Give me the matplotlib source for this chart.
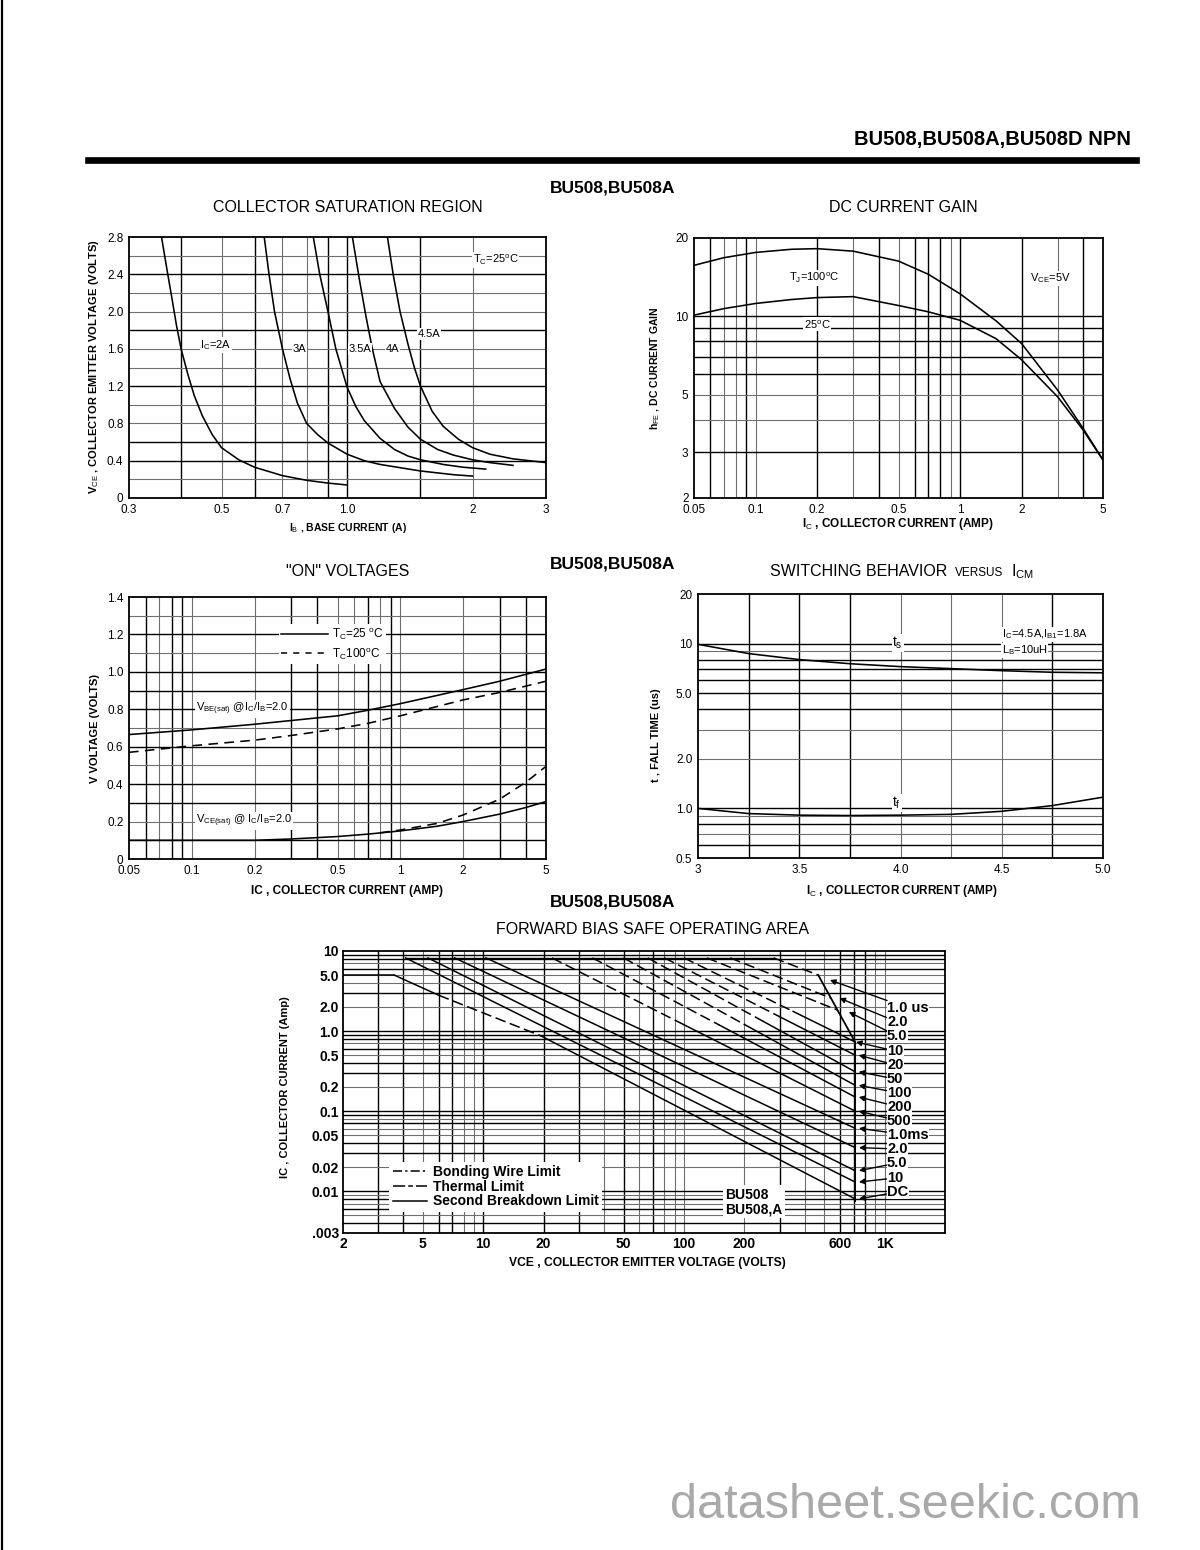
import matplotlib
matplotlib.use('Agg')
import matplotlib.pyplot as plt
from matplotlib.lines import Line2D

plt.rcParams['font.family'] = ['Liberation Sans', 'DejaVu Sans']
plt.rcParams['mathtext.fontset'] = 'custom'
plt.rcParams['mathtext.rm'] = 'Liberation Sans'
plt.rcParams['mathtext.it'] = 'Liberation Sans'
plt.rcParams['mathtext.bf'] = 'Liberation Sans:bold'

# ================= DATA =================
# --- Collector saturation region (IB in A, VCE in V) ---
sat_labels = ['I$_C$=2A', '3A', '3.5A', '4A', '4.5A']
sat_ib_2a = [0.359, 0.37, 0.38, 0.39, 0.40, 0.415, 0.43, 0.45, 0.475, 0.50, 0.55, 0.60, 0.70, 0.80, 0.90, 1.0]
sat_v_2a = [2.8, 2.45, 2.15, 1.85, 1.6, 1.33, 1.1, 0.88, 0.68, 0.54, 0.41, 0.33, 0.24, 0.19, 0.16, 0.14]
sat_ib_3a = [0.633, 0.65, 0.67, 0.70, 0.73, 0.76, 0.80, 0.85, 0.90, 1.0, 1.1, 1.2, 1.5, 1.8, 2.0]
sat_v_3a = [2.8, 2.4, 2.0, 1.6, 1.28, 1.02, 0.80, 0.68, 0.59, 0.47, 0.40, 0.36, 0.29, 0.25, 0.235]
sat_ib_35a = [0.83, 0.86, 0.90, 0.94, 1.0, 1.05, 1.1, 1.2, 1.3, 1.4, 1.5, 1.7, 1.9, 2.15]
sat_v_35a = [2.8, 2.4, 2.0, 1.6, 1.19, 0.98, 0.83, 0.64, 0.52, 0.45, 0.41, 0.36, 0.33, 0.31]
sat_ib_4a = [1.03, 1.07, 1.11, 1.15, 1.2, 1.3, 1.4, 1.5, 1.65, 1.8, 2.0, 2.2, 2.5]
sat_v_4a = [2.8, 2.35, 1.95, 1.6, 1.25, 0.96, 0.76, 0.63, 0.52, 0.46, 0.41, 0.38, 0.35]
sat_ib_45a = [1.25, 1.29, 1.34, 1.40, 1.45, 1.5, 1.6, 1.7, 1.85, 2.0, 2.2, 2.5, 3.0]
sat_v_45a = [2.8, 2.4, 2.0, 1.65, 1.4, 1.2, 0.93, 0.77, 0.63, 0.54, 0.47, 0.42, 0.38]
sat_xticks = [0.3, 0.5, 0.7, 1.0, 2, 3]
sat_xticklabels = ['0.3', '0.5', '0.7', '1.0', '2', '3']
sat_yticks = [0, 0.4, 0.8, 1.2, 1.6, 2.0, 2.4, 2.8]
sat_yticklabels = ['0', '0.4', '0.8', '1.2', '1.6', '2.0', '2.4', '2.8']

# --- DC current gain (IC in A, hFE) ---
gain_ic_100 = [0.05, 0.07, 0.1, 0.15, 0.2, 0.3, 0.5, 0.7, 1.0, 1.5, 2.0, 3.0, 4.0, 5.0]
gain_h_100 = [15.7, 16.8, 17.6, 18.1, 18.2, 17.8, 16.3, 14.5, 12.2, 9.6, 7.85, 5.2, 3.7, 2.8]
gain_ic_25 = [0.05, 0.07, 0.1, 0.15, 0.2, 0.3, 0.5, 0.7, 1.0, 1.5, 2.0, 3.0, 4.0, 5.0]
gain_h_25 = [10.1, 10.7, 11.2, 11.6, 11.8, 11.9, 11.0, 10.4, 9.65, 8.2, 6.8, 4.9, 3.65, 2.8]
gain_xticks = [0.05, 0.1, 0.2, 0.5, 1, 2, 5]
gain_xticklabels = ['0.05', '0.1', '0.2', '0.5', '1', '2', '5']
gain_yticks = [2, 3, 5, 10, 20]
gain_yticklabels = ['2', '3', '5', '10', '20']

# --- "ON" voltages (IC in A, V) ---
on_ic = [0.05, 0.1, 0.2, 0.3, 0.5, 0.7, 1.0, 2.0, 3.0, 5.0]
on_vbe_25 = [0.665, 0.69, 0.72, 0.74, 0.765, 0.795, 0.83, 0.905, 0.95, 1.015]
on_vbe_100 = [0.57, 0.605, 0.635, 0.66, 0.695, 0.725, 0.765, 0.85, 0.89, 0.95]
on_ic_vce25 = [0.05, 0.1, 0.2, 0.3, 0.5, 0.7, 1.0, 1.5, 2.0, 3.0, 4.0, 5.0]
on_vce_25 = [0.10, 0.10, 0.10, 0.107, 0.12, 0.133, 0.15, 0.175, 0.20, 0.24, 0.275, 0.307]
on_ic_vce100 = [0.8, 1.0, 1.5, 2.0, 3.0, 4.0, 5.0]
on_vce_100 = [0.14, 0.155, 0.19, 0.235, 0.32, 0.41, 0.495]
on_xticks = [0.05, 0.1, 0.2, 0.5, 1, 2, 5]
on_xticklabels = ['0.05', '0.1', '0.2', '0.5', '1', '2', '5']
on_yticks = [0, 0.2, 0.4, 0.6, 0.8, 1.0, 1.2, 1.4]
on_yticklabels = ['0', '0.2', '0.4', '0.6', '0.8', '1.0', '1.2', '1.4']

# --- Switching behaviour (IC in A, time in us) ---
sw_ic = [3.0, 3.25, 3.5, 3.75, 4.0, 4.25, 4.5, 4.75, 5.0]
sw_ts = [9.9, 8.7, 8.0, 7.55, 7.25, 7.05, 6.85, 6.7, 6.65]
sw_tf = [1.0, 0.93, 0.91, 0.905, 0.91, 0.92, 0.96, 1.04, 1.17]
sw_xticks = [3, 3.5, 4.0, 4.5, 5.0]
sw_xticklabels = ['3', '3.5', '4.0', '4.5', '5.0']
sw_yticks = [0.5, 1.0, 2.0, 5.0, 10, 20]
sw_yticklabels = ['0.5', '1.0', '2.0', '5.0', '10', '20']

# --- Forward bias safe operating area (VCE in V, IC in A) ---
soa_labels = ['1.0 us', '2.0', '5.0', '10', '20', '50', '100', '200', '500',
              '1.0ms', '2.0', '5.0', '10', 'DC']
soa_v = [[280, 467], [170, 540], [130, 582],
         [100, 350, 713], [80, 300, 713], [66, 250, 713], [50, 200, 713],
         [35, 150, 713], [22, 100, 713],
         [10.3, 713], [7.2, 713], [5.3, 713], [4.1, 713],
         [2, 3.6, 6, 19.4, 713]]
soa_i = [[8.2, 5.0], [8.2, 2.58], [8.2, 1.83],
         [8.2, 1.76, 0.73], [8.2, 1.51, 0.5], [8.2, 1.31, 0.31], [8.2, 1.21, 0.21],
         [8.2, 1.19, 0.15], [8.2, 1.2, 0.10],
         [8.2, 0.061], [8.2, 0.035], [8.2, 0.018], [8.2, 0.013],
         [5.0, 5.0, 2.8, 0.87, 0.008]]
# segment styles: 'd' dashed (thermal), 's' solid (second breakdown)
soa_seg = [['d'], ['d'], ['d'],
           ['d', 's'], ['d', 's'], ['d', 's'], ['d', 's'], ['d', 's'], ['d', 's'],
           ['s'], ['s'], ['s'], ['s'],
           ['s', 's', 'd', 's']]
soa_arrow_v = [534, 596, 663, 720, 743, 743, 743, 743, 743, 745, 745, 745, 745, 745]
soa_arrow_i = [4.34, 2.58, 1.73, 0.73, 0.5, 0.31, 0.21, 0.15, 0.10, 0.061, 0.035, 0.018, 0.013, 0.008]
soa_env_v = [467, 713, 713]
soa_env_i = [5.0, 0.73, 0.0075]
soa_top_v = [4.1, 280]
soa_top_i = [8.2, 8.2]
soa_xticks = [2, 5, 10, 20, 50, 100, 200, 600, 1000]
soa_xticklabels = ['2', '5', '10', '20', '50', '100', '200', '600', '1K']
soa_yticks = [0.003, 0.01, 0.02, 0.05, 0.1, 0.2, 0.5, 1.0, 2.0, 5.0, 10]
soa_yticklabels = ['.003', '0.01', '0.02', '0.05', '0.1', '0.2', '0.5', '1.0', '2.0', '5.0', '10']

# ================= FIGURE =================
W, H = 1200, 1550
fig = plt.figure(figsize=(12, 15.5), dpi=100)
fig.patch.set_facecolor('white')


def fx(px):
    return px / W


def fy(py):
    return 1 - py / H


def add_ax(l, t, r, b):
    return fig.add_axes([l / W, 1 - b / H, (r - l) / W, (b - t) / H])


def grid(ax, vh=(), vl=(), hh=(), hl=()):
    for v in vh:
        ax.axvline(v, color='black', lw=1.0, zorder=1)
    for v in vl:
        ax.axvline(v, color='#6f6f6f', lw=0.8, zorder=1)
    for h in hh:
        ax.axhline(h, color='black', lw=1.0, zorder=1)
    for h in hl:
        ax.axhline(h, color='#6f6f6f', lw=0.8, zorder=1)


def finish(ax, xt, xtl, yt, ytl, fs=8.5, pad=3, bold=False):
    ax.set_xticks(xt)
    ax.set_xticklabels(xtl)
    ax.set_yticks(yt)
    ax.set_yticklabels(ytl)
    ax.minorticks_off()
    ax.tick_params(which='both', length=0, labelsize=fs, pad=pad)
    for lab in ax.get_xticklabels() + ax.get_yticklabels():
        lab.set_fontweight('bold' if bold else 'normal')
    for s in ax.spines.values():
        s.set_linewidth(1.3)
        s.set_zorder(5)


wb = dict(facecolor='white', edgecolor='none', pad=0.6)
LFS = 8

# ---------- Chart 1: Collector saturation ----------
ax1 = add_ax(129, 237, 546, 498)
ax1.set_xscale('log')
ax1.set_xlim(0.3, 3)
ax1.set_ylim(0, 2.8)
grid(ax1, vh=[0.4, 0.6, 0.9, 1.0, 1.5], vl=[0.5, 0.7, 0.8, 2.0],
     hh=[0.4, 0.6, 1.2, 1.8, 2.4], hl=[0.2, 0.8, 1.0, 1.4, 1.6, 2.0, 2.2, 2.6])
for xs, ys in [(sat_ib_2a, sat_v_2a), (sat_ib_3a, sat_v_3a), (sat_ib_35a, sat_v_35a),
               (sat_ib_4a, sat_v_4a), (sat_ib_45a, sat_v_45a)]:
    ax1.plot(xs, ys, color='black', lw=1.15, zorder=3)
for lab, x, y in zip(sat_labels, [0.445, 0.74, 1.01, 1.24, 1.48], [1.64, 1.6, 1.6, 1.6, 1.76]):
    ax1.text(x, y, lab, fontsize=LFS, va='center', ha='left', bbox=wb, zorder=4)
ax1.text(2.0, 2.55, 'T$_C$=25$^o$C', fontsize=LFS, va='center', ha='left', bbox=wb, zorder=4)
finish(ax1, sat_xticks, sat_xticklabels, sat_yticks, sat_yticklabels, pad=4)

# ---------- Chart 2: DC current gain ----------
ax2 = add_ax(694, 238, 1103, 498)
ax2.set_xscale('log')
ax2.set_yscale('log')
ax2.set_xlim(0.05, 5)
ax2.set_ylim(2, 20)
grid(ax2, vh=[0.06, 0.09, 0.2, 0.4, 0.6, 0.7, 0.8, 1, 2, 4], vl=[0.07, 0.08, 0.1, 0.3, 0.5, 0.9, 3],
     hh=[3, 6, 7, 8, 9, 10], hl=[4, 5])
ax2.plot(gain_ic_100, gain_h_100, color='black', lw=1.15, zorder=3)
ax2.plot(gain_ic_25, gain_h_25, color='black', lw=1.15, zorder=3)
ax2.text(0.145, 14, 'T$_J$=100$^o$C', fontsize=LFS, va='center', ha='left', bbox=wb, zorder=4)
ax2.text(0.172, 9.3, '25$^o$C', fontsize=LFS, va='center', ha='left', bbox=wb, zorder=4)
ax2.text(2.2, 14, 'V$_{CE}$=5V', fontsize=LFS, va='center', ha='left', bbox=wb, zorder=4)
finish(ax2, gain_xticks, gain_xticklabels, gain_yticks, gain_yticklabels, pad=4)

# ---------- Chart 3: ON voltages ----------
ax3 = add_ax(129, 597, 546, 859)
ax3.set_xscale('log')
ax3.set_xlim(0.05, 5)
ax3.set_ylim(0, 1.4)
grid(ax3, vh=[0.06, 0.08, 0.09, 0.3, 0.4, 0.7, 0.9, 3, 4], vl=[0.07, 0.1, 0.2, 0.5, 0.6, 0.8, 1, 2],
     hh=[0.1, 0.3, 0.4, 0.6, 0.8, 0.9, 1.0, 1.2], hl=[0.2, 0.5, 0.7, 1.1, 1.3])
ax3.plot(on_ic, on_vbe_25, color='black', lw=1.15, zorder=3)
ax3.plot(on_ic, on_vbe_100, color='black', lw=1.15, ls=(0, (6, 4)), zorder=3)
ax3.plot(on_ic_vce25, on_vce_25, color='black', lw=1.15, zorder=3)
ax3.plot(on_ic_vce100, on_vce_100, color='black', lw=1.15, ls=(0, (6, 4)), zorder=3)
h1 = Line2D([], [], color='black', lw=1.1)
h2 = Line2D([], [], color='black', lw=1.1, ls=(0, (4, 4)))
leg3 = ax3.legend([h1, h2], ['T$_C$=25 $^o$C', 'T$_C$100$^o$C'], loc='upper left',
                  bbox_to_anchor=(0.345, 0.92), fontsize=8.5, frameon=True, handlelength=4,
                  labelspacing=0.3, borderpad=0.2, handletextpad=0.3)
leg3.get_frame().set_facecolor('white')
leg3.get_frame().set_edgecolor('none')
leg3.get_frame().set_alpha(1)
leg3.set_zorder(6)
ax3.text(0.105, 0.8, 'V$_{BE(sat)}$ @I$_C$/I$_B$=2.0', fontsize=LFS, va='center', ha='left', bbox=wb, zorder=4)
ax3.text(0.105, 0.204, 'V$_{CE(sat)}$ @ I$_C$/I$_B$=2.0', fontsize=LFS, va='center', ha='left', bbox=wb, zorder=4)
finish(ax3, on_xticks, on_xticklabels, on_yticks, on_yticklabels, pad=4)

# ---------- Chart 4: Switching behaviour ----------
ax4 = add_ax(698, 594, 1103, 858)
ax4.set_yscale('log')
ax4.set_xlim(3, 5)
ax4.set_ylim(0.5, 20)
grid(ax4, vh=[3.25, 3.5, 3.75, 4.75], vl=[4.0, 4.25, 4.5],
     hh=[0.6, 0.8, 1.0, 4, 5, 6, 7, 8, 10], hl=[0.7, 0.9, 2, 3, 9])
ax4.plot(sw_ic, sw_ts, color='black', lw=1.15, zorder=3)
ax4.plot(sw_ic, sw_tf, color='black', lw=1.15, zorder=3)
ax4.text(3.96, 10.1, 't$_s$', fontsize=10, va='center', ha='left', bbox=wb, zorder=4)
ax4.text(3.96, 1.08, 't$_f$', fontsize=10, va='center', ha='left', bbox=wb, zorder=4)
ax4.text(4.5, 11.4, 'I$_C$=4.5A,I$_{B1}$=1.8A', fontsize=LFS, va='center', ha='left', bbox=wb, zorder=4)
ax4.text(4.5, 9.1, 'L$_B$=10uH', fontsize=LFS, va='center', ha='left', bbox=wb, zorder=4)
finish(ax4, sw_xticks, sw_xticklabels, sw_yticks, sw_yticklabels, pad=4)

# ---------- Chart 5: SOA ----------
ax5 = add_ax(343, 951, 945, 1233)
ax5.set_xscale('log')
ax5.set_yscale('log')
ax5.set_xlim(2, 2000)
ax5.set_ylim(0.003, 10)
grid(ax5,
     vh=[3, 4, 6, 7, 10, 20, 30, 50, 70, 300, 600, 700, 800],
     vl=[5, 8, 9, 40, 60, 80, 90, 100, 200, 400, 500, 900, 1000],
     hh=[0.004, 0.006, 0.008, 0.01, 0.03, 0.04, 0.07, 0.09, 0.1, 0.3, 0.4, 0.6, 0.8, 0.9, 1, 3, 6, 8, 9],
     hl=[0.005, 0.007, 0.009, 0.02, 0.05, 0.06, 0.08, 0.2, 0.5, 0.7, 2, 4, 5, 7])
ax5.plot(soa_top_v, soa_top_i, color='black', lw=1.0, zorder=3)
ax5.plot(soa_env_v, soa_env_i, color='black', lw=1.3, zorder=3)
for vs, is_, segs in zip(soa_v, soa_i, soa_seg):
    for k, st in enumerate(segs):
        ls = (0, (7, 3)) if st == 'd' else '-'
        ax5.plot(vs[k:k + 2], is_[k:k + 2], color='black', lw=1.1, ls=ls, zorder=3)
label_py = [1008, 1022, 1036, 1051, 1065, 1079, 1093, 1107, 1121, 1135, 1149, 1163, 1178, 1192]
for lab, av, ai, py in zip(soa_labels, soa_arrow_v, soa_arrow_i, label_py):
    ax5.annotate(lab, xy=(av, ai), xycoords='data',
                 xytext=((887 - 343) / 602, 1 - (py - 951) / 282), textcoords='axes fraction',
                 fontsize=10.5, fontweight='bold', va='center', ha='left',
                 bbox=dict(facecolor='white', edgecolor='none', pad=0.3),
                 arrowprops=dict(arrowstyle='-|>', color='black', lw=1.0, mutation_scale=8,
                                 shrinkA=0, shrinkB=0), zorder=6)
hb = Line2D([], [], color='black', lw=1.1, ls=(0, (6, 2, 1.5, 2)))
ht = Line2D([], [], color='black', lw=1.1, ls=(0, (8, 2, 3, 2)))
hs = Line2D([], [], color='black', lw=1.1)
leg5 = ax5.legend([hb, ht, hs], ['Bonding Wire Limit', 'Thermal Limit', 'Second Breakdown Limit'],
                  loc='lower left', bbox_to_anchor=(0.065, 0.05), fontsize=10, frameon=True,
                  handlelength=2.5, labelspacing=0.05, borderpad=0.25, handletextpad=0.4)
leg5.get_frame().set_facecolor('white')
leg5.get_frame().set_edgecolor('none')
leg5.get_frame().set_alpha(1)
for t in leg5.get_texts():
    t.set_fontweight('bold')
leg5.set_zorder(6)
ax5.text(0.635, 0.06, 'BU508\nBU508,A', transform=ax5.transAxes, fontsize=10, fontweight='bold',
         va='bottom', ha='left', linespacing=1.05,
         bbox=dict(facecolor='white', edgecolor='none', pad=1.5), zorder=6)
finish(ax5, soa_xticks, soa_xticklabels, soa_yticks, soa_yticklabels, fs=10, pad=3, bold=True)

# ---------- Page texts ----------
fig.text(fx(1131), fy(140), 'BU508,BU508A,BU508D NPN', ha='right', va='center', fontsize=14.5, fontweight='bold')
fig.add_artist(Line2D([fx(88), fx(1136)], [fy(160), fy(160)], lw=4.8, color='black'))
fig.add_artist(Line2D([fx(1.5), fx(1.5)], [0, 1], lw=1.6, color='black'))

for py in [188, 564, 902]:
    fig.text(fx(613), fy(py), 'BU508,BU508A', ha='center', va='center', fontsize=12.5, fontweight='bold')

TFS = 11.5
fig.text(fx(348), fy(208), 'COLLECTOR SATURATION REGION', ha='center', va='center', fontsize=TFS)
fig.text(fx(903), fy(207), 'DC CURRENT GAIN', ha='center', va='center', fontsize=TFS)
fig.text(fx(348), fy(572), '"ON" VOLTAGES', ha='center', va='center', fontsize=TFS)
fig.text(fx(770), fy(572), 'SWITCHING BEHAVIOR', ha='left', va='center', fontsize=TFS)
fig.text(fx(955), fy(573), 'VERSUS', ha='left', va='center', fontsize=8.5)
fig.text(fx(1011), fy(572), 'I$_{CM}$', ha='left', va='center', fontsize=TFS)
fig.text(fx(652), fy(930), 'FORWARD BIAS SAFE OPERATING AREA', ha='center', va='center', fontsize=TFS)

# axis labels
fig.text(fx(348), fy(528), 'I$_B$ , BASE CURRENT (A)', ha='center', va='center', fontsize=7.5, fontweight='bold')
fig.text(fx(94), fy(367), 'V$_{CE}$ , COLLECTOR EMITTER VOLTAGE (VOLTS)', ha='center', va='center',
         fontsize=8, fontweight='bold', rotation=90)
fig.text(fx(898), fy(524), 'I$_C$ , COLLECTOR CURRENT (AMP)', ha='center', va='center', fontsize=8.5, fontweight='bold')
fig.text(fx(655), fy(368), 'h$_{FE}$ , DC CURRENT GAIN', ha='center', va='center',
         fontsize=7.5, fontweight='bold', rotation=90)
fig.text(fx(347), fy(891), 'IC , COLLECTOR CURRENT (AMP)', ha='center', va='center', fontsize=8.5, fontweight='bold')
fig.text(fx(95), fy(728), 'V VOLTAGE (VOLTS)', ha='center', va='center',
         fontsize=8, fontweight='bold', rotation=90)
fig.text(fx(902), fy(891), 'I$_C$ , COLLECTOR CURRENT (AMP)', ha='center', va='center', fontsize=8.5, fontweight='bold')
fig.text(fx(656), fy(735), 't , FALL TIME (us)', ha='center', va='center',
         fontsize=8, fontweight='bold', rotation=90)
fig.text(fx(647), fy(1263), 'VCE , COLLECTOR EMITTER VOLTAGE (VOLTS)', ha='center', va='center',
         fontsize=8.7, fontweight='bold')
fig.text(fx(285), fy(1087), 'IC , COLLECTOR CURRENT (Amp)', ha='center', va='center',
         fontsize=8, fontweight='bold', rotation=90)

fig.text(fx(905), fy(1506), 'datasheet.seekic.com', ha='center', va='center', fontsize=35,
         color='#a9a9a9', family=['Liberation Sans', 'DejaVu Sans'])

fig.savefig('out.png', dpi=100, facecolor='white')
